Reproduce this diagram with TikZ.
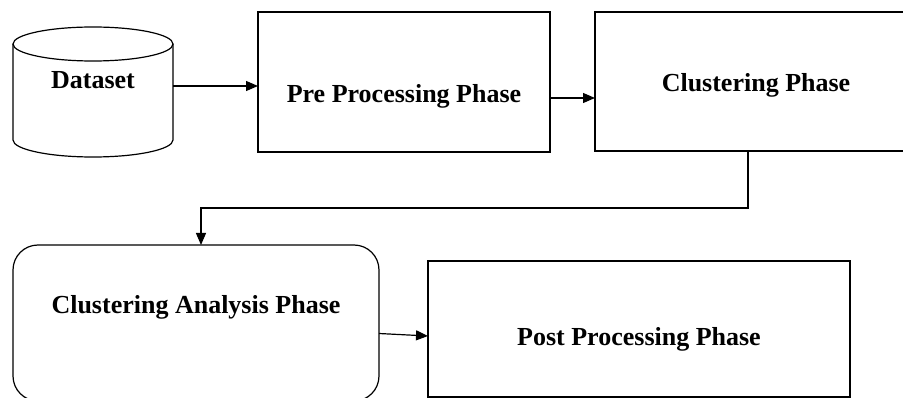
\documentclass[tikz,border=0pt]{standalone}
\usepackage{fontspec}
\setmainfont{Liberation Serif}
\usetikzlibrary{arrows.meta}

\begin{document}
\begin{tikzpicture}[x=1pt, y=-1pt,
  every node/.style={inner sep=0pt, outer sep=0pt,
    font=\bfseries\fontsize{26}{30}\selectfont},
  phasebox/.style={draw, line width=1.2pt, rectangle},
  roundbox/.style={draw, line width=1.2pt, rectangle, rounded corners=25pt},
  arr/.style={line width=1.2pt, -{Triangle[length=12pt,width=10pt]}}
]
\useasboundingbox (0,0) rectangle (903,398);
\clip (0,0) rectangle (903,398);

% dataset store: an invisible frame plus a hand-drawn cylinder around it
\node (data) [minimum width=160pt, minimum height=130pt, text height=0pt, text depth=6pt]
  at (93,92) {Dataset};
\draw[line width=1.2pt]
  ([yshift=-17pt]data.north) ellipse [x radius=80pt, y radius=17pt];
\draw[line width=1.2pt]
  ([yshift=-17pt]data.north west) -- ([yshift=17pt]data.south west)
  arc [start angle=180, end angle=360, x radius=80pt, y radius=17pt]
  -- ([yshift=-17pt]data.north east);

% processing phases
\node (pre) [phasebox, minimum width=292pt, minimum height=140pt,
  text height=41.4pt, text depth=0pt] at (404,82) {Pre Processing Phase};
\node (clust) [phasebox, minimum width=322pt, minimum height=139pt,
  text height=20.4pt, text depth=0pt] at (756,81.5) {Clustering Phase};
\node (ana) [roundbox, minimum width=366pt, minimum height=156pt,
  text height=0pt, text depth=18pt] at (196,323) {Clustering Analysis Phase};
\node (post) [phasebox, minimum width=422pt, minimum height=136pt,
  text height=32pt, text depth=0pt] at (639,329) {Post Processing Phase};

% flow between phases
\draw[arr] ([yshift=6pt]data.east) -- ([yshift=6pt]data.east -| pre.west);
\draw[arr] ([yshift=-16pt]pre.east) -- ([yshift=-16pt]pre.east -| clust.west);
\draw[arr] ([xshift=-8pt]clust.south) -- ++(0,57) -| ([xshift=5pt]ana.north);
\draw[arr] ([yshift=-10.5pt]ana.east) -- ([yshift=-7pt]post.west);
\end{tikzpicture}
\end{document}
